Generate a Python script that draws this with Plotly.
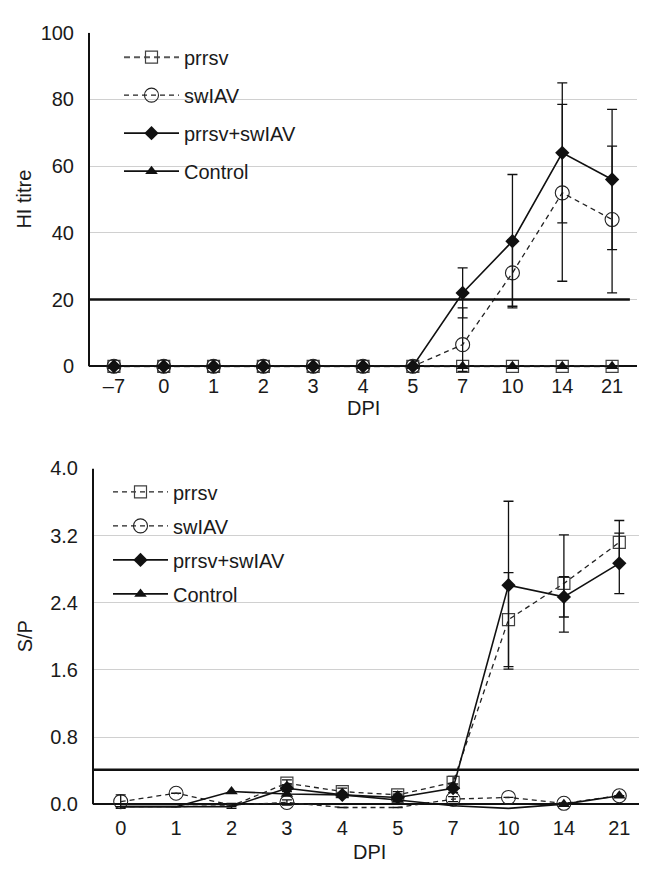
import plotly.graph_objects as go

# page is 647x870; the browser's default 8px body margin offsets the figure
PAGE_W, PAGE_H = 647, 870
OFF = 8
W, H = PAGE_W - OFF, PAGE_H - OFF

# ---------------- data: HI titre (top panel) ----------------
hi_days = ["–7", "0", "1", "2", "3", "4", "5", "7", "10", "14", "21"]
hi_prrsv = [0, 0, 0, 0, 0, 0, 0, 0, 0, 0, 0]
hi_swiav = [0, 0, 0, 0, 0, 0, 0, 6.5, 28, 52, 44]
hi_swiav_err_up = [None, None, None, None, None, None, None, 11, 10, 26.5, 22]
hi_swiav_err_dn = [None, None, None, None, None, None, None, 8, 10, 26.5, 22]
hi_dual = [0, 0, 0, 0, 0, 0, 0, 22, 37.5, 64, 56]
hi_dual_err = [None, None, None, None, None, None, None, 7.5, 20, 21, 21]
hi_control = [0, 0, 0, 0, 0, 0, 0, 0, 0, 0, 0]
hi_threshold = 20
hi_ticks = [0, 20, 40, 60, 80, 100]

# ---------------- data: S/P (bottom panel) ----------------
sp_days = ["0", "1", "2", "3", "4", "5", "7", "10", "14", "21"]
sp_prrsv = [-0.03, -0.03, -0.02, 0.25, 0.15, 0.11, 0.26, 2.2, 2.63, 3.12]
sp_prrsv_err = [None, None, 0.03, 0.04, 0.04, 0.04, 0.07, 0.56, 0.58, 0.26]
sp_swiav = [0.03, 0.13, -0.01, 0.02, -0.04, -0.04, 0.06, 0.08, 0.01, 0.1]
sp_swiav_err = [0.08, None, None, 0.03, None, None, 0.03, None, None, None]
sp_dual = [-0.03, -0.03, -0.03, 0.19, 0.11, 0.08, 0.19, 2.61, 2.47, 2.87]
sp_dual_err = [None, None, None, 0.04, 0.03, 0.04, 0.05, 1.0, 0.24, 0.36]
sp_control = [-0.03, -0.03, 0.15, 0.12, 0.11, 0.05, -0.02, -0.05, 0.0, 0.1]
sp_threshold = 0.41
sp_ticks = [0, 0.8, 1.6, 2.4, 3.2, 4.0]

series_names = ["prrsv", "swIAV", "prrsv+swIAV", "Control"]

FONT = "Liberation Sans, Arial, sans-serif"
TXT = "#1a1a1a"


def vis(vals):
    # markers below the axis minimum are clipped away (as in the original)
    return [0 if v < 0 else 1 for v in vals]


def styles(panel):
    if panel == "top":
        prrsv_line = dict(color="#595959", width=2, dash="6px,4px")
    else:
        prrsv_line = dict(color="#222222", width=1.3, dash="5px,4px")
    return [
        dict(line=prrsv_line,
             marker=dict(symbol="square-open", size=12, color="#404040", line=dict(width=1.2))),
        dict(line=dict(color="#222222", width=1.3, dash="5px,4px"),
             marker=dict(symbol="circle-open", size=14, color="#222222", line=dict(width=1.1))),
        dict(line=dict(color="#111111", width=1.6),
             marker=dict(symbol="diamond", size=11, color="#111111")),
        dict(line=dict(color="#111111", width=1.6),
             marker=dict(symbol="triangle-up", size=11, color="#111111")),
    ]


def err(arr, arrminus=None):
    if arr is None:
        return dict(visible=False)
    d = dict(type="data", array=arr, color="#111111", thickness=1.3, width=5, visible=True)
    if arrminus is not None:
        d["symmetric"] = False
        d["arrayminus"] = arrminus
    return d


fig = go.Figure()

# ----- top panel traces -----
top_vals = [hi_prrsv, hi_swiav, hi_dual, hi_control]
top_errs = [err(None), err(hi_swiav_err_up, hi_swiav_err_dn), err(hi_dual_err), err(None)]
for name, vals, e, st in zip(series_names, top_vals, top_errs, styles("top")):
    m = dict(st["marker"])
    m["opacity"] = vis(vals)
    fig.add_trace(go.Scatter(x=hi_days, y=vals, mode="lines+markers", name=name,
                             line=st["line"], marker=m, error_y=e,
                             xaxis="x", yaxis="y", showlegend=False, cliponaxis=False))

# ----- bottom panel traces -----
bot_vals = [sp_prrsv, sp_swiav, sp_dual, sp_control]
bot_errs = [err(sp_prrsv_err), err(sp_swiav_err), err(sp_dual_err), err(None)]
for name, vals, e, st in zip(series_names, bot_vals, bot_errs, styles("bottom")):
    m = dict(st["marker"])
    m["opacity"] = vis(vals)
    fig.add_trace(go.Scatter(x=sp_days, y=vals, mode="lines+markers", name=name,
                             line=st["line"], marker=m, error_y=e,
                             xaxis="x2", yaxis="y2", showlegend=False, cliponaxis=False))

# ----- legend entries -----
for i, (name, st) in enumerate(zip(series_names, styles("top"))):
    fig.add_trace(go.Scatter(x=[None], y=[None], mode="lines+markers", name=name,
                             line=st["line"], marker=st["marker"], xaxis="x", yaxis="y",
                             legend="legend", legendgroup="t%d" % i))
for i, (name, st) in enumerate(zip(series_names, styles("bottom"))):
    fig.add_trace(go.Scatter(x=[None], y=[None], mode="lines+markers", name=name,
                             line=st["line"], marker=st["marker"], xaxis="x2", yaxis="y2",
                             legend="legend2", legendgroup="b%d" % i))


# ----- geometry (page pixel -> paper fraction) -----
def px_x(p):
    return (p - OFF) / W


def px_y(p):
    return (PAGE_H - p) / H


top_x_dom = [px_x(89), px_x(637)]
bot_x_dom = [px_x(93), 1.0]
top_y_dom = [px_y(368), px_y(22)]
bot_y_dom = [px_y(815), px_y(466)]

axis_font = dict(family=FONT, size=20, color=TXT)

fig.update_layout(
    width=W, height=H,
    margin=dict(l=0, r=0, t=0, b=0),
    paper_bgcolor="white", plot_bgcolor="white",
    font=dict(family=FONT, size=20, color=TXT),
    xaxis=dict(domain=top_x_dom, anchor="y", type="category", categoryorder="array",
               categoryarray=hi_days, showgrid=False, showline=False, ticks="",
               tickfont=axis_font, zeroline=False, range=[-0.5, len(hi_days) - 0.5]),
    yaxis=dict(domain=top_y_dom, anchor="x", range=[-1.8, 100], tickvals=hi_ticks,
               showgrid=True, gridcolor="#d0d0d0", gridwidth=1, zeroline=True,
               zerolinecolor="#111111", zerolinewidth=2, showline=False, ticks="",
               tickfont=axis_font, ticklabelstandoff=14),
    xaxis2=dict(domain=bot_x_dom, anchor="y2", type="category", categoryorder="array",
                categoryarray=sp_days, showgrid=False, showline=False, ticks="",
                tickfont=axis_font, zeroline=False, range=[-0.5, len(sp_days) - 0.5],
                ticklabelstandoff=3),
    yaxis2=dict(domain=bot_y_dom, anchor="x2", range=[-0.082, 4.0], tickvals=sp_ticks,
                tickformat=".1f", showgrid=True, gridcolor="#d0d0d0", gridwidth=1,
                zeroline=True, zerolinecolor="#111111", zerolinewidth=2, showline=False,
                ticks="", tickfont=axis_font, ticklabelstandoff=14),
    legend=dict(x=px_x(119), y=px_y(27), xanchor="left", yanchor="top",
                bgcolor="rgba(0,0,0,0)", font=dict(family=FONT, size=20, color=TXT),
                traceorder="grouped", tracegroupgap=9, itemwidth=55),
    legend2=dict(x=px_x(108), y=px_y(470), xanchor="left", yanchor="top",
                 bgcolor="rgba(0,0,0,0)", font=dict(family=FONT, size=20, color=TXT),
                 traceorder="grouped", tracegroupgap=5, itemwidth=55),
    showlegend=True,
)

# thresholds and vertical axis lines
fig.add_shape(type="line", xref="x domain", yref="y", x0=0, x1=0.987,
              y0=hi_threshold, y1=hi_threshold, line=dict(color="#111111", width=2.5))
fig.add_shape(type="line", xref="x2 domain", yref="y2", x0=0, x1=1,
              y0=sp_threshold, y1=sp_threshold, line=dict(color="#111111", width=2.5))
fig.add_shape(type="line", xref="x domain", yref="y", x0=0, x1=0,
              y0=0, y1=hi_ticks[-1], line=dict(color="#111111", width=2))
fig.add_shape(type="line", xref="x2 domain", yref="y2", x0=0, x1=0,
              y0=0, y1=sp_ticks[-1], line=dict(color="#111111", width=2))

# axis titles (explicitly centred on their target points)
ann = dict(xref="paper", yref="paper", showarrow=False, font=axis_font,
           xanchor="center", yanchor="middle")
fig.add_annotation(text="HI titre", x=px_x(24), y=px_y(192), textangle=-90, **ann)
fig.add_annotation(text="S/P", x=px_x(25), y=px_y(637), textangle=-90, **ann)
fig.add_annotation(text="DPI", x=px_x(363), y=px_y(404), **ann)
fig.add_annotation(text="DPI", x=px_x(369), y=px_y(857), **ann)

fig.write_html("out.html")
